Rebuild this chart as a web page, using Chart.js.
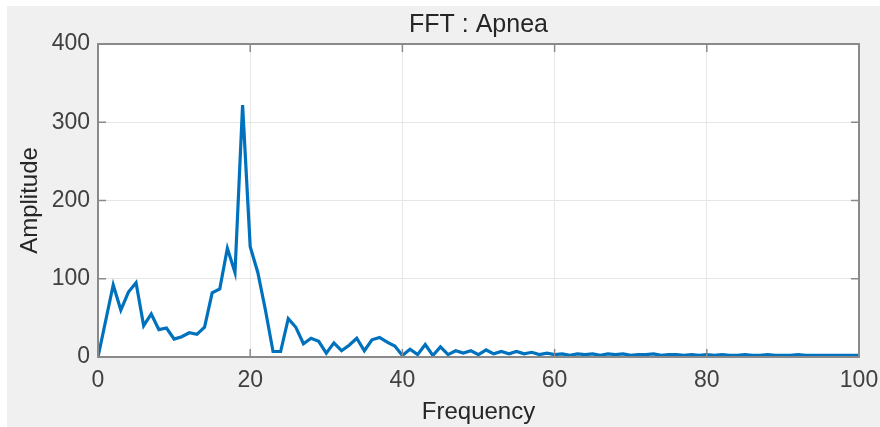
<!DOCTYPE html>
<html lang="en">
  <head>
    <meta charset="UTF-8" />
    <title>FFT : Apnea</title>
    <style>
      html, body { margin: 0; padding: 0; background: #ffffff; }
      #wrap { width: 880px; height: 427px; }
    </style>
    <script src="https://cdn.jsdelivr.net/npm/chart.js"></script>
  </head>
  <body>
    <div id="wrap"><canvas id="fftChart"></canvas></div>
    <script>
      // frequency bins 0..100
      const frequency = [];
      for (let f = 0; f <= 100; f++) frequency.push(f);

      const amplitude = [
        0, 46, 92, 60, 83, 95, 40, 55, 35, 37,
        23, 26, 31, 29, 38, 82, 87, 139, 108, 322,
        141, 108, 60, 7, 7, 49, 38, 17, 24, 20,
        5, 18, 8, 15, 24, 8, 22, 25, 19, 14,
        2, 10, 3, 16, 2, 13, 3, 8, 5, 8,
        3, 9, 4, 7, 4, 7, 4, 6, 3, 5,
        3, 4, 2, 4, 3, 4, 2, 4, 3, 4,
        2, 3, 3, 4, 2, 3, 3, 2, 3, 2,
        3, 2, 3, 2, 2, 3, 2, 2, 3, 2,
        2, 2, 3, 2, 2, 2, 2, 2, 2, 2,
        2
      ];

      const xTicks = [0, 20, 40, 60, 80, 100];
      const yTicks = [0, 100, 200, 300, 400];

      const font = "'Liberation Sans', Arial, sans-serif";
      const axisColor = "#8a8a8a";

      // gray figure background with thin white strip top/left
      const figureBg = {
        id: "figureBg",
        beforeDraw(chart) {
          const c = chart.ctx;
          c.save();
          c.fillStyle = "#ffffff";
          c.fillRect(0, 0, chart.width, chart.height);
          c.fillStyle = "#f0f0f0";
          c.fillRect(7, 6, chart.width - 7, chart.height - 6);
          const a = chart.chartArea;
          c.fillStyle = "#ffffff";
          c.fillRect(a.left, a.top, a.right - a.left, a.bottom - a.top);
          c.restore();
        },
      };

      // box around axes + inward ticks like MATLAB
      const axesBox = {
        id: "axesBox",
        afterDatasetsDraw(chart) {
          const c = chart.ctx;
          const a = chart.chartArea;
          const xs = chart.scales.x;
          const ys = chart.scales.y;
          c.save();
          c.strokeStyle = axisColor;
          c.lineWidth = 1.5;
          c.beginPath();
          xTicks.forEach((t) => {
            const px = xs.getPixelForValue(t);
            c.moveTo(px, a.bottom);
            c.lineTo(px, a.bottom - 8);
            c.moveTo(px, a.top);
            c.lineTo(px, a.top + 8);
          });
          yTicks.forEach((t) => {
            const py = ys.getPixelForValue(t);
            c.moveTo(a.left, py);
            c.lineTo(a.left + 8, py);
            c.moveTo(a.right, py);
            c.lineTo(a.right - 8, py);
          });
          c.stroke();
          c.lineWidth = 2;
          c.strokeRect(a.left, a.top, a.right - a.left, a.bottom - a.top);
          c.restore();
        },
      };

      const ctx = document.getElementById("fftChart").getContext("2d");
      const fftChart = new Chart(ctx, {
        type: "line",
        data: {
          datasets: [
            {
              label: "FFT",
              data: frequency.map((f, i) => ({ x: f, y: amplitude[i] })),
              borderColor: "#0072BD",
              borderWidth: 3.2,
              pointRadius: 0,
              tension: 0,
              fill: false,
            },
          ],
        },
        options: {
          responsive: true,
          maintainAspectRatio: false,
          animation: false,
          layout: { padding: { left: 0, right: 21, top: 0, bottom: 0 } },
          plugins: {
            legend: { display: false },
            tooltip: { enabled: false },
            title: {
              display: true,
              fullSize: false,
              text: "FFT : Apnea",
              color: "#262626",
              font: { family: font, size: 25, weight: "normal" },
              padding: { top: 10, bottom: 4 },
            },
          },
          scales: {
            x: {
              type: "linear",
              min: 0,
              max: 100,
              afterBuildTicks: (s) => { s.ticks = xTicks.map((v) => ({ value: v })); },
              afterFit: (s) => { s.height = 70; s.paddingLeft = 0; s.paddingRight = 0; },
              grid: { color: "#e6e6e6", lineWidth: 1, drawTicks: false },
              border: { display: false },
              ticks: {
                color: "#404040",
                font: { family: font, size: 23 },
                padding: 10,
                maxRotation: 0,
              },
              title: {
                display: true,
                text: "Frequency",
                color: "#262626",
                font: { family: font, size: 24 },
                padding: { top: 2, bottom: 0 },
              },
            },
            y: {
              min: 0,
              max: 400,
              afterBuildTicks: (s) => { s.ticks = yTicks.map((v) => ({ value: v })); },
              afterFit: (s) => { s.width = 98; s.paddingTop = 0; s.paddingBottom = 0; },
              grid: { color: "#e6e6e6", lineWidth: 1, drawTicks: false },
              border: { display: false },
              ticks: {
                color: "#404040",
                font: { family: font, size: 23 },
                padding: 8,
              },
              title: {
                display: true,
                text: "Amplitude",
                color: "#262626",
                font: { family: font, size: 24 },
                padding: { top: 16, bottom: 0 },
              },
            },
          },
        },
        plugins: [figureBg, axesBox],
      });
    </script>
  </body>
</html>
